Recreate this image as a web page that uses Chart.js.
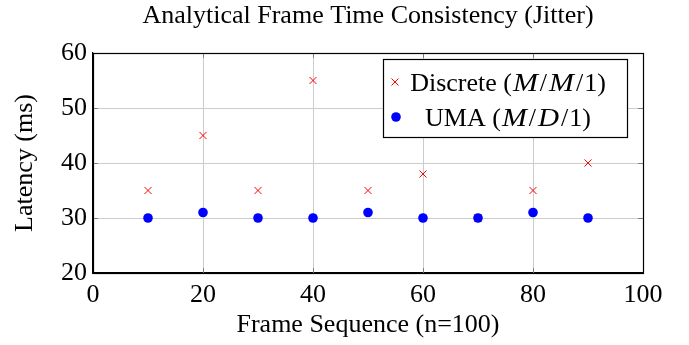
<!DOCTYPE html>
<html>
<head>
<meta charset="utf-8">
<script src="https://cdn.jsdelivr.net/npm/chart.js@4.4.0/dist/chart.umd.min.js"></script>
<style>
html,body{margin:0;padding:0;background:#fff;}
#wrap{width:689px;height:345px;position:relative;}
</style>
</head>
<body>
<div id="wrap"><canvas id="c" width="689" height="345"></canvas></div>
<script>
const frames = [10, 20, 30, 40, 50, 60, 70, 80, 90];
const discreteLatency = [35, 45, 35, 55, 35, 38, 30, 35, 40];
const umaLatency = [30, 31, 30, 30, 31, 30, 30, 31, 30];
const xTicks = [0, 20, 40, 60, 80, 100];
const yTicks = [20, 30, 40, 50, 60];
const chartTitle = 'Analytical Frame Time Consistency (Jitter)';

const SERIF = "'Liberation Serif', 'Times New Roman', serif";
const FS = 26;

// [text, italic, spaceBefore, spaceAfter, horizontalScale]
const legendItems = [
  {kind: 'cross', color: '#ff0000', parts: [['Discrete (', 0, 0, 0, 1], ['M', 1, 1, 1, 1.15], ['/', 0, 1, 1, 1], ['M', 1, 1, 1, 1.15], ['/', 0, 1, 1, 1], ['1)', 0, 0, 0, 1]]},
  {kind: 'dot', color: '#0000ff', parts: [['UMA (', 0, 0, 0, 1], ['M', 1, 1, 1, 1.15], ['/', 0, 1, 1, 1], ['D', 1, 1, 1, 1.12], ['/', 0, 1, 1, 1], ['1)', 0, 0, 0, 1]]}
];

const framePlugin = {
  id: 'framePlugin',
  afterDatasetsDraw(chart) {
    const ctx = chart.ctx, a = chart.chartArea;
    const xs = chart.scales.x, ys = chart.scales.y;
    ctx.save();
    ctx.strokeStyle = '#7f7f7f';
    ctx.lineWidth = 1;
    ctx.beginPath();
    xTicks.forEach(v => {
      const px = Math.round(xs.getPixelForValue(v)) + 0.5;
      ctx.moveTo(px, a.bottom); ctx.lineTo(px, a.bottom - 5);
      ctx.moveTo(px, a.top); ctx.lineTo(px, a.top + 5);
    });
    yTicks.forEach(v => {
      const py = Math.round(ys.getPixelForValue(v)) + 0.5;
      ctx.moveTo(a.left, py); ctx.lineTo(a.left + 5, py);
      ctx.moveTo(a.right, py); ctx.lineTo(a.right - 5, py);
    });
    ctx.stroke();
    ctx.strokeStyle = '#000';
    ctx.lineWidth = 1.2;
    ctx.strokeRect(Math.round(a.left) + 0.5, Math.round(a.top) + 0.5,
                   Math.round(a.right - a.left), Math.round(a.bottom - a.top));
    ctx.restore();
  },
  afterDraw(chart) {
    const ctx = chart.ctx, a = chart.chartArea;
    ctx.save();
    ctx.fillStyle = '#000';
    ctx.font = '26px ' + SERIF;
    ctx.textAlign = 'center';
    ctx.textBaseline = 'alphabetic';
    ctx.fillText(chartTitle, (a.left + a.right) / 2, 23);
    const bx = 383.5, by = 59.5, bw = 244, bh = 78;
    ctx.fillStyle = '#fff';
    ctx.fillRect(bx, by, bw, bh);
    ctx.strokeStyle = '#000';
    ctx.lineWidth = 1.2;
    ctx.strokeRect(bx, by, bw, bh);
    const rows = [91, 126];
    const textCenter = 508;
    ctx.textAlign = 'left';
    legendItems.forEach((it, i) => {
      const base = rows[i];
      const my = base - 9;
      if (it.kind === 'cross') {
        ctx.strokeStyle = it.color; ctx.lineWidth = 1;
        const mx = 395, r = 3.5;
        ctx.beginPath();
        ctx.moveTo(mx - r, my - r); ctx.lineTo(mx + r, my + r);
        ctx.moveTo(mx - r, my + r); ctx.lineTo(mx + r, my - r);
        ctx.stroke();
      } else {
        ctx.fillStyle = it.color;
        ctx.beginPath(); ctx.arc(396, my, 4.8, 0, Math.PI * 2); ctx.fill();
      }
      ctx.fillStyle = '#000';
      let total = 0;
      const widths = it.parts.map(p => {
        ctx.font = (p[1] ? 'italic ' : '') + FS + 'px ' + SERIF;
        const w = ctx.measureText(p[0]).width * p[4] + p[2] + p[3];
        total += w; return w;
      });
      let x = textCenter - total / 2;
      it.parts.forEach((p, j) => {
        ctx.font = (p[1] ? 'italic ' : '') + FS + 'px ' + SERIF;
        ctx.save();
        ctx.translate(x + p[2], base);
        ctx.scale(p[4], 1);
        ctx.fillText(p[0], 0, 0);
        ctx.restore();
        x += widths[j];
      });
    });
    ctx.restore();
  }
};

new Chart(document.getElementById('c'), {
  type: 'scatter',
  data: {
    datasets: [
      {
        label: 'Discrete (M/M/1)',
        data: frames.map((f, i) => ({x: f, y: discreteLatency[i]})),
        pointStyle: 'crossRot',
        pointRadius: 5,
        borderColor: '#ff0000',
        backgroundColor: '#ff0000',
        borderWidth: 1,
        order: 2
      },
      {
        label: 'UMA (M/D/1)',
        data: frames.map((f, i) => ({x: f, y: umaLatency[i]})),
        pointStyle: 'circle',
        pointRadius: 4.8,
        borderWidth: 0,
        borderColor: '#0000ff',
        backgroundColor: '#0000ff',
        order: 1
      }
    ]
  },
  options: {
    responsive: false,
    animation: false,
    devicePixelRatio: 1,
    layout: {padding: {left: 0, right: 46, top: 53, bottom: 0}},
    plugins: {
      legend: {display: false},
      tooltip: {enabled: false},
      title: {display: false}
    },
    scales: {
      x: {
        type: 'linear', min: 0, max: 100,
        afterBuildTicks: s => { s.ticks = xTicks.map(v => ({value: v})); },
        afterFit: s => { s.height = 72; },
        grid: {color: '#cccccc', lineWidth: 1, drawTicks: false},
        border: {color: '#000', width: 1.2},
        ticks: {color: '#000', font: {family: SERIF, size: FS}, padding: 7, maxRotation: 0},
        title: {display: true, text: 'Frame Sequence (n=100)', color: '#000',
                font: {family: SERIF, size: FS}, padding: {top: 0, bottom: 4}}
      },
      y: {
        min: 20, max: 60,
        afterBuildTicks: s => { s.ticks = yTicks.map(v => ({value: v})); },
        afterFit: s => { s.width = 93; },
        grid: {color: '#cccccc', lineWidth: 1, drawTicks: false},
        border: {color: '#000', width: 1.2},
        ticks: {color: '#000', font: {family: SERIF, size: FS}, padding: 6},
        title: {display: true, text: 'Latency (ms)', color: '#000',
                font: {family: SERIF, size: FS}, padding: {top: 10, bottom: 0}}
      }
    }
  },
  plugins: [framePlugin]
});
</script>
</body>
</html>
